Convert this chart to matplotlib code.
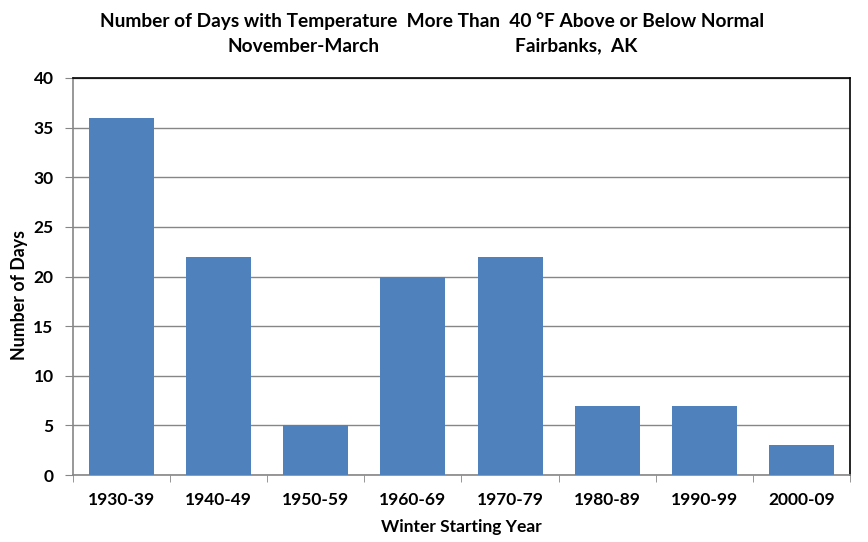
import matplotlib
matplotlib.use("Agg")
import matplotlib.pyplot as plt

decades = ["1930-39", "1940-49", "1950-59", "1960-69",
           "1970-79", "1980-89", "1990-99", "2000-09"]
days = [36, 22, 5, 20, 22, 7, 7, 3]
y_ticks = list(range(0, 41, 5))

plt.rcParams["font.family"] = ["Lato", "DejaVu Sans"]
plt.rcParams["font.weight"] = "bold"


def main():
    fig = plt.figure(figsize=(8.68, 5.42), dpi=100)
    ax = fig.add_axes([73 / 868, 67 / 542, 777 / 868, 397 / 542])

    x = range(len(decades))
    ax.bar(x, days, width=0.67, color="#4F81BD", zorder=3)

    ax.set_xlim(-0.5, len(decades) - 0.5)
    ax.set_ylim(0, 40)
    ax.set_yticks(y_ticks)
    ax.set_yticklabels([str(v) for v in y_ticks], fontsize=12.5, fontweight="bold")
    ax.set_xticks(list(x))
    ax.set_xticklabels(decades, fontsize=12.5, fontweight="bold")
    ax.tick_params(axis="x", length=0, pad=12)
    ax.set_xticks([i - 0.5 for i in range(len(decades) + 1)], minor=True)
    ax.tick_params(axis="x", which="minor", length=5, color="#868686")
    ax.tick_params(axis="y", length=6, color="#868686", pad=8)

    ax.grid(axis="y", color="#868686", linewidth=1, zorder=0)
    ax.spines["left"].set_color("#868686")
    ax.spines["bottom"].set_color("#868686")
    ax.spines["top"].set_color("black")
    ax.spines["right"].set_color("black")
    for s in ax.spines.values():
        s.set_linewidth(1.2)

    ax.set_xlabel("Winter Starting Year", fontsize=12.5, fontweight="bold", labelpad=8)
    ax.set_ylabel("Number of Days", fontsize=12.8, fontweight="bold")
    ax.yaxis.set_label_coords(-0.058, 0.453)

    fig.text(432 / 868, 1 - 21 / 542,
             "Number of Days with Temperature  More Than  40 °F Above or Below Normal",
             ha="center", va="center", fontsize=13.8, fontweight="bold")
    fig.text(304 / 868, 1 - 46 / 542, "November-March",
             ha="center", va="center", fontsize=13.8, fontweight="bold")
    fig.text(576 / 868, 1 - 46 / 542, "Fairbanks,  AK",
             ha="center", va="center", fontsize=13.8, fontweight="bold")

    fig.savefig("out.png", dpi=100)


if __name__ == "__main__":
    main()
